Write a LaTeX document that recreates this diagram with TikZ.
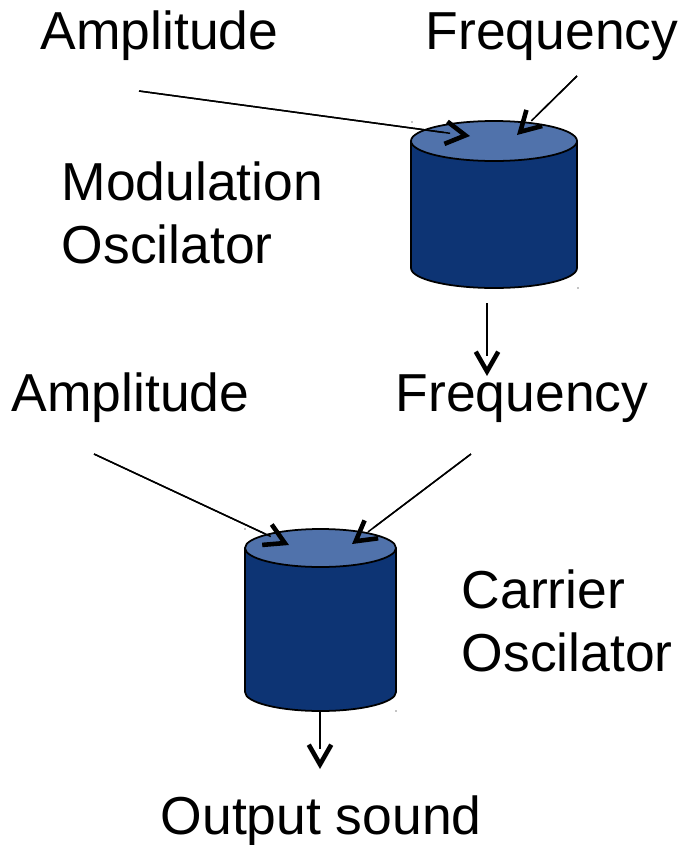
\documentclass[tikz,border=0pt]{standalone}
\usepackage{fontspec}
\setmainfont{Liberation Sans}
\usetikzlibrary{arrows.meta}
\definecolor{cylbody}{HTML}{0D3474}
\definecolor{cyltop}{HTML}{5072AB}
\tikzset{
  label/.style={anchor=base west,inner sep=0pt,font=\fontsize{15.2}{17.9}\selectfont,align=left},
  osc/.style={draw=black,line width=0.5pt,line join=round},
  wire/.style={line width=0.42pt,-{.Straight Barb[length=5.6pt,width=6.4pt,line width=1.3pt]},
    postaction={draw,-,shorten >=5.7pt}},
  speck/.style={circle,fill=black,inner sep=0pt,minimum size=0.4pt}
}
\begin{document}
\begin{tikzpicture}[x=0.01cm,y=-0.01cm]
\useasboundingbox (0,0) rectangle (685,845);
% modulation oscillator
\draw[osc,fill=cylbody] (411,141) -- (411,268) arc[start angle=180,end angle=0,x radius=83,y radius=20] -- (577,141) -- cycle;
\draw[osc,fill=cyltop] (494,141) ellipse[x radius=83,y radius=20];
% carrier oscillator
\draw[osc,fill=cylbody] (245,548) -- (245,692) arc[start angle=180,end angle=0,x radius=75.5,y radius=19] -- (396,548) -- cycle;
\draw[osc,fill=cyltop] (320.5,548) ellipse[x radius=75.5,y radius=19];
% texts
\node[label] (modamp) at (40,49) {Amplitude};
\node[label] (modfreq) at (425,49) {Frequency};
\node[label] (modname) at (61,263) {Modulation\\Oscilator};
\node[label] (caramp) at (11,411) {Amplitude};
\node[label] (carfreq) at (395,411) {Frequency};
\node[label] (carname) at (461,671) {Carrier\\Oscilator};
\node[label] (output) at (160,834) {Output sound};
% wire ends
\coordinate (a1) at (139,91);
\coordinate (a2) at (470,136);
\coordinate (b1) at (577,76);
\coordinate (b2) at (517,135);
\coordinate (c1) at (487,303);
\coordinate (c2) at (487,376);
\coordinate (d1) at (94,454);
\coordinate (d2) at (289,545);
\coordinate (e1) at (471,454);
\coordinate (e2) at (352,544);
\coordinate (f1) at (320,711);
\coordinate (f2) at (320,769);
\draw[wire] (a1) -- (a2);
\draw[wire] (b1) -- (b2);
\draw[wire] (c1) -- (c2);
\draw[wire] (d1) -- (d2);
\draw[wire] (e1) -- (e2);
\draw[wire] (f1) -- (f2);
% specks
\node[speck] (s1) at (412,122) {};
\node[speck] (s2) at (578,288) {};
\node[speck] (s3) at (245,529) {};
\node[speck] (s4) at (396,711) {};
\end{tikzpicture}
\end{document}
